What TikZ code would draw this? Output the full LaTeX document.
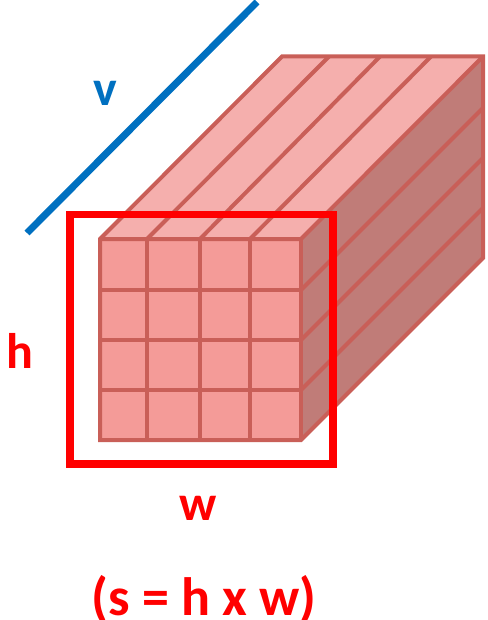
\documentclass[tikz,border=0pt]{standalone}
\usepackage{fontspec}
\setmainfont{Carlito}
\definecolor{frontc}{HTML}{F49B98}
\definecolor{topc}{HTML}{F5AFAD}
\definecolor{sidec}{HTML}{C07C78}
\definecolor{edgec}{HTML}{C95F58}
\definecolor{framec}{HTML}{FF0000}
\definecolor{bluec}{HTML}{0070C0}
\tikzset{
  cellline/.style={edgec,line width=4pt},
  lbl/.style={font=\bfseries\fontsize{50}{50}\selectfont,inner sep=0pt,text=framec},
}
\begin{document}
\begin{tikzpicture}[x=1pt,y=-1pt]
\useasboundingbox (0,0) rectangle (487,620);
% faces
\fill[topc] (100,239) -- (282,56.5) -- (483,56.5) -- (301,239) -- cycle;
\fill[sidec] (301,239) -- (483,56.5) -- (483,258) -- (301,440) -- cycle;
\fill[frontc] (100,239) rectangle (301,440);
% top stripes
\foreach \a/\b in {147/329,200/380,250/431}
  \draw[cellline] (\a,239) -- (\b,56.5);
% side stripes
\foreach \a/\b in {290/108,340/158,390/208}
  \draw[cellline] (301,\a) -- (483,\b);
% front grid
\foreach \a in {147,200,250}
  \draw[cellline] (\a,239) -- (\a,440);
\foreach \a in {290,340,390}
  \draw[cellline] (100,\a) -- (301,\a);
% outline
\draw[cellline,line join=miter] (100,239) -- (282,56.5) -- (483,56.5) -- (483,258) -- (301,440) -- (100,440) -- cycle;
\draw[cellline] (100,239) -- (301,239) -- (483,56.5);
\draw[cellline] (301,239) -- (301,440);
% selection frame
\draw[framec,line width=7.5pt] (70,214.5) rectangle (333,464);
% velocity line
\coordinate (vstart) at (27,233);
\coordinate (vend) at (257,2);
\draw[bluec,line width=7pt] (vstart) -- (vend);
% labels
\node[lbl,text=bluec] (v) at (105,93) {v};
\node[lbl] (h) at (20,351) {h};
\node[lbl] (w) at (198,508) {w};
\node[lbl,font=\bfseries\fontsize{54}{54}\selectfont,anchor=base] (s) at (204,615) {(s = h x w)};
\end{tikzpicture}
\end{document}
